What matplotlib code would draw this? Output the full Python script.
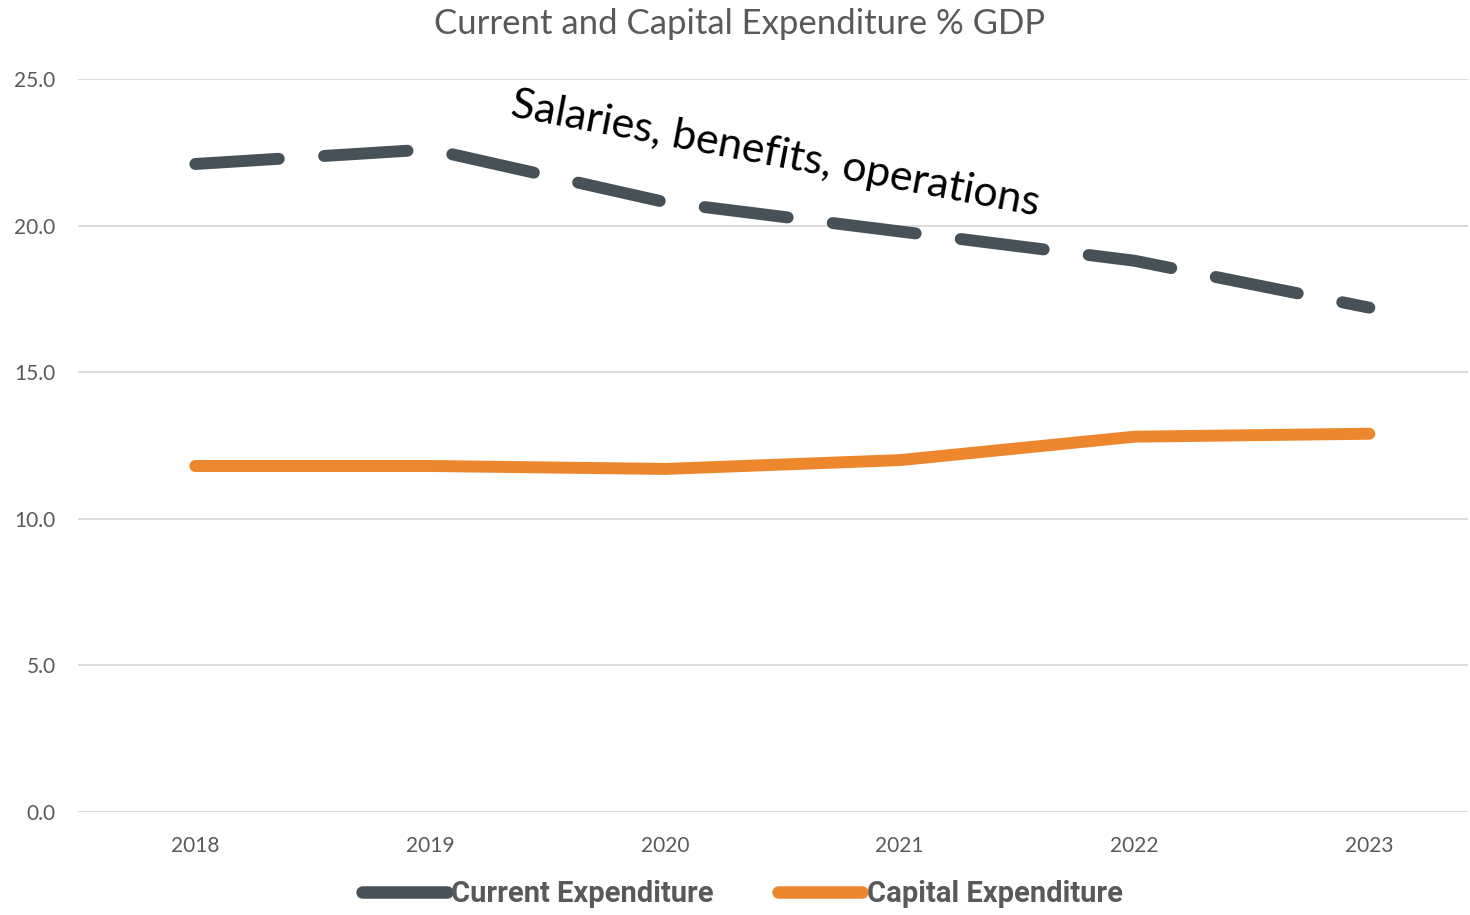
import matplotlib
matplotlib.use('Agg')
import matplotlib.pyplot as plt

# Data
years = ['2018', '2019', '2020', '2021', '2022', '2023']
current_exp = [22.1, 22.6, 20.8, 19.8, 18.8, 17.2]
capital_exp = [11.8, 11.8, 11.7, 12.0, 12.8, 12.9]

plt.rcParams['font.family'] = ['Lato', 'DejaVu Sans']

fig = plt.figure(figsize=(14.7, 9.15), dpi=100)
ax = fig.add_axes([0.053, 0.1126, 0.9456, 0.8011])

x = list(range(len(years)))
ax.plot(x, current_exp, color='#465258', lw=8.6, dashes=(7.0, 3.8),
        dash_capstyle='round', solid_capstyle='round', label='Current Expenditure')
ax.plot(x, capital_exp, color='#ED872D', lw=8.6, solid_capstyle='round',
        label='Capital Expenditure')

ax.set_ylim(0, 25)
ax.set_xlim(-0.5, 5.42)
ax.set_yticks([0, 5, 10, 15, 20, 25])
ax.set_yticklabels([f'{v:.1f}' for v in [0, 5, 10, 15, 20, 25]])
ax.set_xticks(x)
ax.set_xticklabels(years)
ax.tick_params(axis='both', length=0, labelsize=15, colors='#595959')
ax.tick_params(axis='x', pad=17)
ax.tick_params(axis='y', pad=16)
ax.grid(axis='y', color='#D9D9D9', lw=1.3)
ax.set_axisbelow(True)
for s in ax.spines.values():
    s.set_visible(False)

fig.text(0.503, 0.974, 'Current and Capital Expenditure % GDP', ha='center', va='center',
         fontsize=25, color='#595959')

ax.text(2.47, 22.45, 'Salaries, benefits, operations', fontsize=31, color='black',
        rotation=-10.7, rotation_mode='anchor', ha='center', va='center')

leg = fig.legend(loc='center', bbox_to_anchor=(0.505, 0.023), ncol=2, frameon=False,
                 handlelength=2.9, columnspacing=2.2, handletextpad=0.15,
                 prop={'family': ['Roboto', 'DejaVu Sans'], 'weight': 'bold', 'size': 21})
for t in leg.get_texts():
    t.set_color('#595959')
for h in leg.get_lines():
    h.set_linestyle('-')
    h.set_linewidth(9)

fig.savefig('out.png', dpi=100)
